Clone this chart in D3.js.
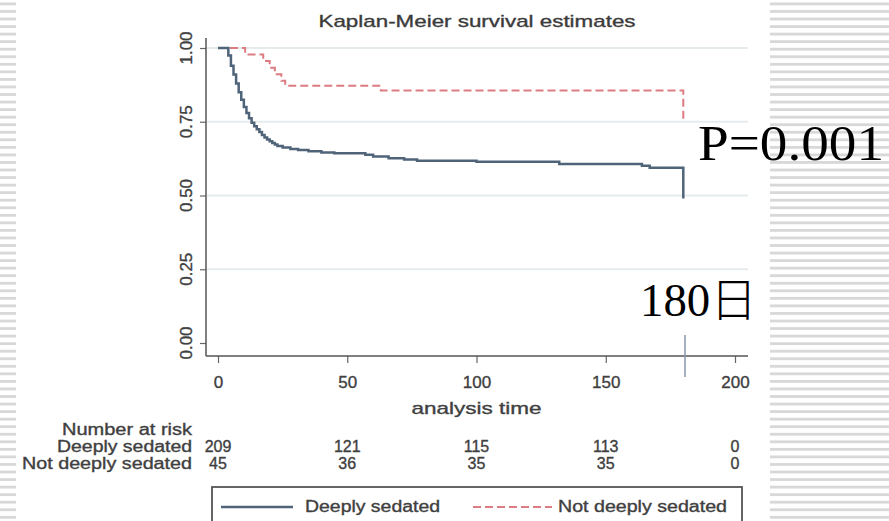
<!DOCTYPE html>
<html>
<head>
<meta charset="utf-8">
<script src="https://cdn.jsdelivr.net/npm/d3@7"></script>
<style>
  body { margin: 0; background: #fff; }
  svg { display: block; }
</style>
</head>
<body>
<svg id="chart" width="889" height="521"></svg>
<script>
   // values
   var deeplyTimes    = [0, 4, 5, 6, 7, 8, 9, 10, 11, 12, 13, 14, 15, 16, 17, 18, 19, 20, 21, 22, 23, 25, 28, 31, 35, 40, 45, 57, 60, 66, 72, 77, 100, 132, 164, 167, 180];
   var deeplySurv     = [1, 0.975, 0.94, 0.91, 0.88, 0.85, 0.825, 0.8, 0.78, 0.762, 0.747, 0.735, 0.725, 0.715, 0.705, 0.697, 0.69, 0.684, 0.678, 0.673, 0.668, 0.663, 0.658, 0.654, 0.65, 0.646, 0.643, 0.638, 0.632, 0.626, 0.622, 0.618, 0.614, 0.607, 0.601, 0.594, 0.49];
   var notDeeplyTimes = [0, 10.5, 17.5, 20, 22, 24.5, 26, 63, 180];
   var notDeeplySurv  = [1, 0.978, 0.956, 0.933, 0.911, 0.889, 0.872, 0.856, 0.75];

   var riskTimes      = [0, 50, 100, 150, 200];
   var riskDeeply     = [209, 121, 115, 113, 0];
   var riskNotDeeply  = [45, 36, 35, 35, 0];

   var xTicks = [0, 50, 100, 150, 200];
   var yTicks = [0, 0.25, 0.5, 0.75, 1];
   var seriesNames = ["Deeply sedated", "Not deeply sedated"];

   var svg = d3.select("#chart");
   var font = "'Liberation Sans', Arial, sans-serif";
   var textColor = "#404040";
   var blue = "#4f6479";
   var red = "#dc7c82";

   var x = d3.scaleLinear().domain([0, 200]).range([218, 735]);
   var y = d3.scaleLinear().domain([0, 1]).range([343, 48]);

   function heavy(t) {
      // the original is a blurred bitmap, so its lettering looks a bit heavier
      return t.attr("stroke", textColor).attr("stroke-width", 0.35);
   }

   function addText(g, str, px, py, size, anchor, len) {
      var t = g.append("text")
         .attr("x", px)
         .attr("y", py)
         .attr("font-family", font)
         .attr("font-size", size)
         .attr("fill", textColor)
         .attr("text-anchor", anchor)
         .text(str);
      if (len) {
         t.attr("textLength", len).attr("lengthAdjust", "spacingAndGlyphs");
      }
      return heavy(t);
   }

   function drawStripes() {
      var rows = d3.range(2.5, 521, 7.55);
      [[0, 16], [770, 119]].forEach(function(col) {
         svg.append("g")
            .selectAll("rect")
            .data(rows)
            .enter()
            .append("rect")
            .attr("x", col[0])
            .attr("y", function(d) { return d; })
            .attr("width", col[1])
            .attr("height", 2.8)
            .attr("fill", "#d8d8d8");
      });
   }

   function drawGrid() {
      svg.append("g")
         .selectAll("line")
         .data(yTicks.filter(function(d) { return d > 0; }))
         .enter()
         .append("line")
         .attr("x1", 207)
         .attr("x2", 748)
         .attr("y1", function(d) { return y(d); })
         .attr("y2", function(d) { return y(d); })
         .attr("stroke", "#e6ebee")
         .attr("stroke-width", 2);
   }

   function drawAxes() {
      var yAxis = svg.append("g")
         .attr("transform", "translate(206,0)")
         .call(d3.axisLeft(y).tickValues(yTicks).tickSize(6).tickFormat(d3.format(".2f")));
      yAxis.select(".domain").remove();
      yAxis.selectAll("line").attr("stroke", "#666").attr("stroke-width", 1.2);
      yAxis.selectAll("text").remove();

      yTicks.forEach(function(v) {
         heavy(svg.append("text")
            .attr("transform", "translate(192," + y(v) + ") rotate(-90)")
            .attr("font-family", font)
            .attr("font-size", 17)
            .attr("fill", textColor)
            .attr("text-anchor", "middle")
            .text(d3.format(".2f")(v)));
      });

      var xAxis = svg.append("g")
         .attr("transform", "translate(0,356)")
         .call(d3.axisBottom(x).tickValues(xTicks).tickSize(7));
      xAxis.select(".domain").remove();
      xAxis.selectAll("line").attr("stroke", "#666").attr("stroke-width", 1.2);
      heavy(xAxis.selectAll("text")
         .attr("font-family", font)
         .attr("font-size", 17)
         .attr("fill", textColor)
         .attr("dy", null)
         .attr("y", 32));

      svg.append("line")
         .attr("x1", 206).attr("x2", 206)
         .attr("y1", 38).attr("y2", 356)
         .attr("stroke", "#555").attr("stroke-width", 1.5);
      svg.append("line")
         .attr("x1", 206).attr("x2", 748)
         .attr("y1", 356).attr("y2", 356)
         .attr("stroke", "#555").attr("stroke-width", 1.5);
   }

   function drawCurves() {
      var line = d3.line()
         .x(function(d) { return x(d[0]); })
         .y(function(d) { return y(d[1]); })
         .curve(d3.curveStepAfter);

      svg.append("path")
         .datum(d3.zip(notDeeplyTimes, notDeeplySurv))
         .attr("d", line)
         .attr("fill", "none")
         .attr("stroke", red)
         .attr("stroke-width", 2)
         .attr("stroke-dasharray", "8,4");

      svg.append("path")
         .datum(d3.zip(deeplyTimes, deeplySurv))
         .attr("d", line)
         .attr("fill", "none")
         .attr("stroke", blue)
         .attr("stroke-width", 2.5);
   }

   function drawRiskTable() {
      var g = svg.append("g");
      addText(g, "analysis time", x(100), 414, 17, "middle", 130);
      addText(g, "Number at risk", 192, 435, 16, "end", 130);
      addText(g, seriesNames[0], 192, 452, 16, "end", 135);
      addText(g, seriesNames[1], 192, 469, 16, "end", 170);
      riskTimes.forEach(function(t, i) {
         addText(g, riskDeeply[i], x(t), 452, 16, "middle");
         addText(g, riskNotDeeply[i], x(t), 469, 16, "middle");
      });
   }

   function drawLegend() {
      var g = svg.append("g");
      g.append("rect")
         .attr("x", 212).attr("y", 487)
         .attr("width", 530).attr("height", 50)
         .attr("fill", "#fff")
         .attr("stroke", "#555")
         .attr("stroke-width", 1.8);
      g.append("line")
         .attr("x1", 221).attr("x2", 293)
         .attr("y1", 507).attr("y2", 507)
         .attr("stroke", blue).attr("stroke-width", 2.5);
      addText(g, seriesNames[0], 305, 512, 16, "start", 135);
      g.append("line")
         .attr("x1", 473).attr("x2", 552)
         .attr("y1", 507).attr("y2", 507)
         .attr("stroke", red).attr("stroke-width", 2)
         .attr("stroke-dasharray", "8,4");
      addText(g, seriesNames[1], 558, 512, 16, "start", 169);
   }

   function drawAnnotations() {
      heavy(svg.append("text")
         .attr("x", 477).attr("y", 27)
         .attr("font-family", font)
         .attr("font-size", 17)
         .attr("fill", "#3a3a3a")
         .attr("text-anchor", "middle")
         .attr("textLength", 317)
         .attr("lengthAdjust", "spacingAndGlyphs")
         .text("Kaplan-Meier survival estimates"));

      svg.append("text")
         .attr("x", 698).attr("y", 160)
         .attr("font-family", "'Liberation Serif', 'DejaVu Serif', serif")
         .attr("font-size", 50)
         .attr("fill", "#000")
         .attr("textLength", 186)
         .attr("lengthAdjust", "spacingAndGlyphs")
         .text("P=0.001");

      svg.append("text")
         .attr("x", 640).attr("y", 316)
         .attr("font-family", "'Liberation Serif', 'Noto Sans CJK JP', serif")
         .attr("font-size", 46)
         .attr("font-weight", 300)
         .attr("fill", "#000")
         .attr("textLength", 117)
         .attr("lengthAdjust", "spacingAndGlyphs")
         .text("180日");

      svg.append("line")
         .attr("x1", 685).attr("x2", 685)
         .attr("y1", 335).attr("y2", 377)
         .attr("stroke", "#8497ad")
         .attr("stroke-width", 1.5);
   }

   drawStripes();
   drawGrid();
   drawAxes();
   drawCurves();
   drawRiskTable();
   drawLegend();
   drawAnnotations();
</script>
</body>
</html>
